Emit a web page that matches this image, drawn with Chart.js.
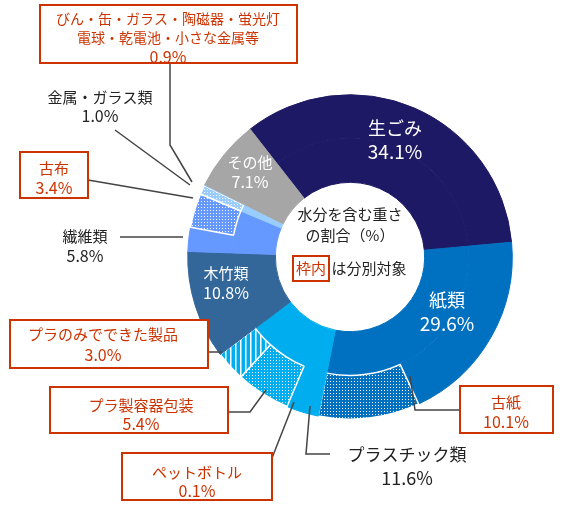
<!DOCTYPE html>
<html><head><meta charset="utf-8">
<script src="https://cdn.jsdelivr.net/npm/chart.js@4.4.1/dist/chart.umd.min.js"></script>
<style>html,body{margin:0;padding:0;background:#fff;}#wrap{position:relative;width:571px;height:509px;}</style>
</head><body><div id="wrap"><canvas id="c" width="571" height="509"></canvas></div>
<script>
const categories = ['生ごみ','紙類','プラスチック類','木竹類','繊維類','金属・ガラス類','その他'];
const categoryValues = [34.1, 29.6, 11.6, 10.8, 5.8, 1.0, 7.1];
const subLabels = ['生ごみ','紙類','古紙','プラスチック類','ペットボトル','プラ製容器包装','プラのみでできた製品','木竹類','繊維類','古布','びん・缶等','金属・ガラス類','その他'];
const subValues = [34.1, 19.5, 10.1, 3.1, 0.1, 5.4, 3.0, 10.8, 2.4, 3.4, 0.9, 0.1, 7.1];

const C = {gomi:'#1e1965', kami:'#0070c0', pla:'#00aeef', moku:'#336699', sen:'#6699ff', kin:'#99ccff', etc:'#a6a6a6'};
function pat(bg, type){
  const t=document.createElement('canvas'); const n = type==='stripe'?5:3;
  t.width=n;t.height=n; const x=t.getContext('2d');
  x.fillStyle=bg;x.fillRect(0,0,n,n);x.fillStyle='#fff';
  if(type==='stripe'){x.fillRect(0,0,1.5,n);} else {x.fillRect(0,0,1,1);}
  return document.getElementById('c').getContext('2d').createPattern(t,'repeat');
}
const innerColors=[C.gomi,C.kami,C.pla,C.moku,C.sen,C.kin,C.etc];
const outerColors=[C.gomi,C.kami,pat(C.kami,'dot'),C.pla,C.pla,pat(C.pla,'dot'),pat(C.pla,'stripe'),C.moku,C.sen,pat(C.sen,'dot'),pat(C.kin,'dot'),C.kin,C.etc];
const outerBorderColors=[C.gomi,C.kami,'#fff',C.pla,C.pla,'#fff','#fff',C.moku,C.sen,'#fff','#fff',C.kin,C.etc];
const outerBorder=[1,1,1.5,1,0,1.5,1.5,1,1,1.5,1.5,0,1];

const lines=[
 [[170,62],[170,145],[192,182]],
 [[115,130],[190,185]],
 [[88,180],[193,198]],
 [[120,237],[183,237]],
 [[208,352],[222,352]],
 [[228,412],[250,412],[266,390]],
 [[272,458],[294,402]],
 [[310,406],[306,454],[330,454]],
 [[410,376],[415,410],[460,410]]
];
const texts=[
 ['びん・缶・ガラス・陶磁器・蛍光灯',168,19,'#cc3300',14],
 ['電球・乾電池・小さな金属等',168,38,'#cc3300',14],
 ['0.9%',168,57,'#cc3300',16],
 ['金属・ガラス類',100,97,'#222',15],
 ['1.0%',100,116,'#222',16],
 ['古布',54,168,'#cc3300',15],
 ['3.4%',54,188,'#cc3300',16],
 ['繊維類',85,236,'#222',15],
 ['5.8%',85,256,'#222',16],
 ['プラのみでできた製品',103,334,'#cc3300',15],
 ['3.0%',103,355,'#cc3300',16],
 ['プラ製容器包装',141,405,'#cc3300',15],
 ['5.4%',141,424,'#cc3300',16],
 ['ペットボトル',197,472,'#cc3300',15],
 ['0.1%',197,491,'#cc3300',16],
 ['プラスチック類',407,455,'#222',17],
 ['11.6%',407,478,'#222',18],
 ['古紙',506,402,'#cc3300',15],
 ['10.1%',506,422,'#cc3300',16],
 ['生ごみ',395,128,'#fff',18],
 ['34.1%',395,152,'#fff',19],
 ['紙類',447,300,'#fff',18],
 ['29.6%',447,324,'#fff',19],
 ['木竹類',226,273,'#fff',15],
 ['10.8%',226,293,'#fff',16],
 ['その他',250,162,'#fff',15],
 ['7.1%',250,182,'#fff',16],
 ['水分を含む重さ',350,214,'#222',15],
 ['の割合（%）',350,235,'#222',15],
 ['枠内',311,268,'#cc3300',15],
 ['は分別対象',369,268,'#222',15]
];
const boxes=[[40,5,257,58],[20,152,68,46],[10,320,198,48],[50,387,178,46],[122,453,150,47],[460,386,93,47],[293,256,36,25]];

const overlay={id:'overlay',afterDraw(ch){
  const x=ch.ctx; x.save();
  x.strokeStyle='#444';x.lineWidth=1.5;
  lines.forEach(l=>{x.beginPath();l.forEach((p,i)=>i?x.lineTo(p[0],p[1]):x.moveTo(p[0],p[1]));x.stroke();});
  x.fillStyle='#fff';x.strokeStyle='#cc3300';x.lineWidth=2;
  boxes.forEach(b=>{x.fillRect(b[0],b[1],b[2],b[3]);x.strokeRect(b[0],b[1],b[2],b[3]);});
  x.textAlign='center';x.textBaseline='middle';
  texts.forEach(t=>{x.fillStyle=t[3];x.font=t[4]+'px "Noto Sans CJK JP", "Noto Sans", sans-serif';x.fillText(t[0],t[1],t[2]);});
  x.restore();
}};

new Chart(document.getElementById('c'),{
  type:'doughnut',
  data:{labels:subLabels,datasets:[
    {data:subValues,backgroundColor:outerColors,borderColor:outerBorderColors,borderWidth:outerBorder},
    {data:categoryValues,backgroundColor:innerColors,borderColor:innerColors,borderWidth:1}
  ]},
  options:{responsive:false,animation:false,rotation:-38,cutout:'46%',
    layout:{padding:{left:187,right:58,top:94,bottom:89}},
    plugins:{legend:{display:false},tooltip:{enabled:false}}},
  plugins:[overlay]
});
</script></body></html>
